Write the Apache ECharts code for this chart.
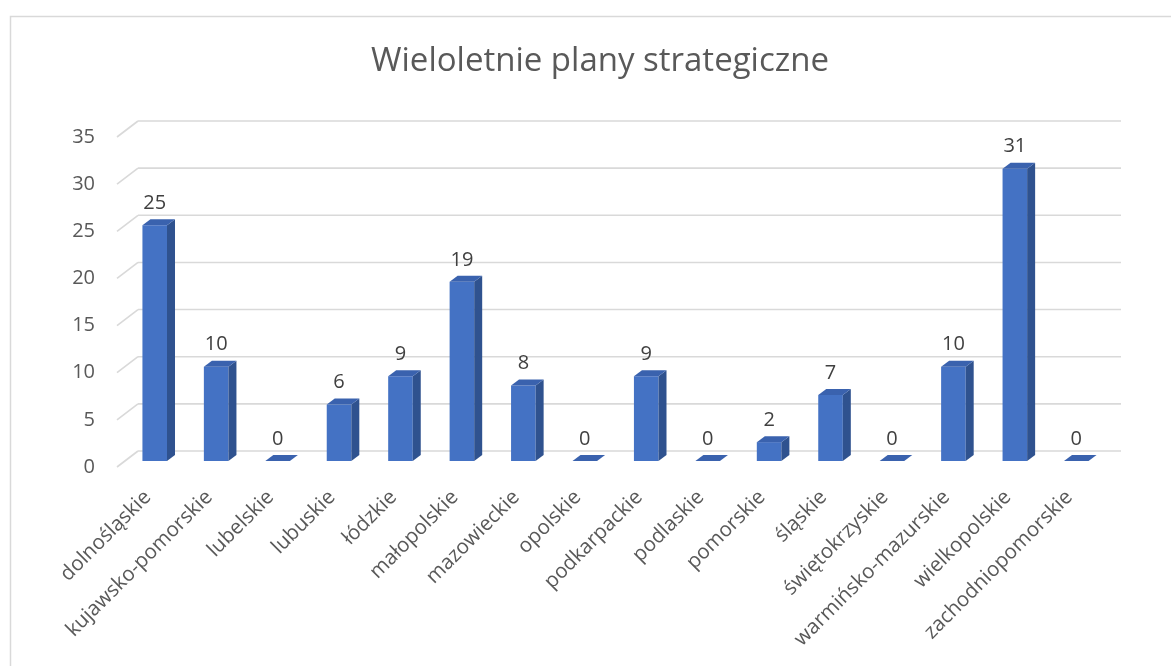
<!DOCTYPE html>
<html><head><meta charset="utf-8">
<script src="https://cdn.jsdelivr.net/npm/echarts@6/dist/echarts.min.js"></script>
<style>html,body{margin:0;padding:0;background:#fff}#c{width:1171px;height:666px}</style>
</head><body><div id="c"></div>
<script>
const title = 'Wieloletnie plany strategiczne';
const categories = ['dolnośląskie','kujawsko-pomorskie','lubelskie','lubuskie','łódzkie','małopolskie','mazowieckie','opolskie','podkarpackie','podlaskie','pomorskie','śląskie','świętokrzyskie','warmińsko-mazurskie','wielkopolskie','zachodniopomorskie'];
const values = [25,10,0,6,9,19,8,0,9,0,2,7,0,10,31,0];
const yTicks = [0,5,10,15,20,25,30,35];

const FONT = '"Open Sans", "Noto Sans", sans-serif';
const DX = 8, DY = -6;          // bar depth
const WDX = 21, WDY = 16;       // floor depth (front -> back wall)

const chart = echarts.init(document.getElementById('c'), null, {renderer: 'canvas'});

function catAxis(idx, show) {
  return {
    type: 'category', gridIndex: idx, data: categories,
    axisLine: {show: false}, axisTick: {show: false}, splitLine: {show: false},
    axisLabel: show ? {rotate: 45, margin: 27, fontSize: 20.5, color: '#595959', fontFamily: FONT, interval: 0} : {show: false}
  };
}
function valAxis(idx, show) {
  return {
    type: 'value', gridIndex: idx, min: 0, max: 35, interval: 5,
    axisLine: {show: false}, axisTick: {show: false}, splitLine: {show: false},
    axisLabel: show ? {margin: 22, fontSize: 20, color: '#595959', fontFamily: FONT} : {show: false}
  };
}

chart.setOption({
  animation: false,
  title: {
    text: title, left: 595, top: 40, textAlign: 'center',
    textStyle: {fontSize: 33, fontWeight: 'normal', color: '#595959', fontFamily: FONT}
  },
  graphic: [{
    type: 'rect', left: 8, top: 14, silent: true,
    shape: {width: 1300, height: 800},
    style: {fill: 'none', stroke: '#d9d9d9', lineWidth: 1.5}
  }],
  grid: [
    {left: 117, width: 983, top: 137, height: 330},
    {left: 124, width: 983, top: 131, height: 330},
    {left: 138, width: 983, top: 121, height: 330}
  ],
  xAxis: [catAxis(0, true), catAxis(1, false), catAxis(2, false)],
  yAxis: [valAxis(0, true), valAxis(1, false), valAxis(2, false)],
  series: [
    {
      type: 'custom', xAxisIndex: 2, yAxisIndex: 2, clip: false, silent: true,
      data: yTicks.map(v => [0, v]),
      renderItem: function (params, api) {
        const y = api.coord([0, api.value(1)])[1];
        const cs = params.coordSys;
        const st = {stroke: '#d9d9d9', lineWidth: 1.6};
        return {type: 'group', children: [
          {type: 'line', shape: {x1: cs.x, y1: y, x2: cs.x + cs.width, y2: y}, style: st},
          {type: 'line', shape: {x1: cs.x - WDX, y1: y + WDY, x2: cs.x, y2: y}, style: st}
        ]};
      }
    },
    {
      type: 'custom', xAxisIndex: 1, yAxisIndex: 1, clip: false,
      data: values.map((v, i) => [i, v]),
      renderItem: function (params, api) {
        const i = api.value(0), v = api.value(1);
        const base = api.coord([i, 0]);
        const top = api.coord([i, v]);
        const w = api.size([1, 0])[0] * 0.4;
        const x0 = base[0] - w / 2, x1 = base[0] + w / 2;
        const ty = top[1], by = base[1];
        const children = [];
        if (v > 0) {
          children.push({type: 'rect', shape: {x: x0, y: ty, width: w, height: by - ty}, style: {fill: '#4472C4'}});
          children.push({type: 'polygon', shape: {points: [[x1, ty], [x1 + DX, ty + DY], [x1 + DX, by + DY], [x1, by]]}, style: {fill: '#2F528F'}});
        }
        children.push({type: 'polygon', shape: {points: [[x0, ty], [x0 + DX, ty + DY], [x1 + DX, ty + DY], [x1, ty]]}, style: {fill: '#3A62AE'}});
        children.push({type: 'text', style: {text: String(v), x: base[0], y: ty - 12, align: 'center', verticalAlign: 'bottom', fill: '#404040', fontSize: 20, fontFamily: FONT}});
        return {type: 'group', children: children};
      }
    }
  ]
});
</script>
</body></html>
